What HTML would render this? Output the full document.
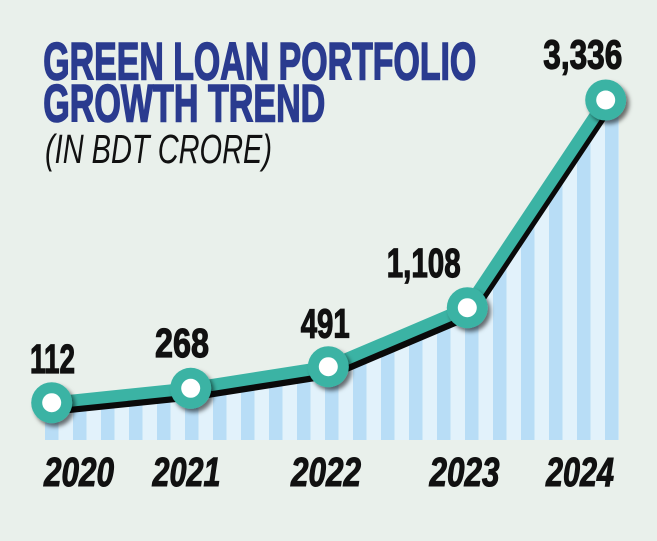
<!DOCTYPE html>
<html>
<head>
<meta charset="utf-8">
<style>
  html, body { margin:0; padding:0; }
  body { width:657px; height:541px; background:#e9f0eb; overflow:hidden; }
  svg { display:block; }
  .t { font-family:"Liberation Sans", sans-serif; }
</style>
</head>
<body>
<svg width="657" height="541" viewBox="0 0 657 541" xmlns="http://www.w3.org/2000/svg">
  <defs>
    <pattern id="stripes" patternUnits="userSpaceOnUse" x="45" y="0" width="28" height="541">
      <rect x="0" y="0" width="28" height="541" fill="#e2f2fb"/>
      <rect x="0" y="0" width="13.5" height="541" fill="#b8ddf6"/>
    </pattern>
    <filter id="sh" x="-50%" y="-50%" width="200%" height="200%">
      <feDropShadow dx="3" dy="3.5" stdDeviation="2" flood-color="#000" flood-opacity="0.55"/>
    </filter>
  </defs>

  <rect width="657" height="541" fill="#e9f0eb"/>

  <!-- Title -->
  <text class="t" x="43.3" y="79.3" font-size="53" font-weight="bold" fill="#2a3b8f" stroke="#2a3b8f" stroke-width="1.6" textLength="433" lengthAdjust="spacingAndGlyphs">GREEN LOAN PORTFOLIO</text>
  <text class="t" x="43.3" y="121.7" font-size="53" font-weight="bold" fill="#2a3b8f" stroke="#2a3b8f" stroke-width="1.6" textLength="282" lengthAdjust="spacingAndGlyphs">GROWTH TREND</text>
  <text class="t" x="45" y="163" font-size="40.5" font-style="italic" fill="#111" textLength="227" lengthAdjust="spacingAndGlyphs">(IN BDT CRORE)</text>

  <!-- Striped area -->
  <polygon points="45,440 45,405 51.7,405 190.7,391 328.3,369 467.3,310 605.7,100 619,100 619,440" fill="url(#stripes)"/>

  <!-- Line shadow (black) -->
  <polyline points="51.7,402.7 190.7,388.3 328.3,366.7 467.3,307.7 605.7,100" fill="none" stroke="#0a0a0a" stroke-width="12" stroke-linejoin="round" stroke-linecap="round" transform="translate(2,6)"/>
  <!-- Teal line -->
  <polyline points="51.7,402.7 190.7,388.3 328.3,366.7 467.3,307.7 605.7,100" fill="none" stroke="#3bb3a4" stroke-width="12" stroke-linejoin="round" stroke-linecap="round"/>

  <!-- Markers -->
  <g filter="url(#sh)">
    <circle cx="51.7" cy="402.7" r="20.5" fill="#3bb3a4"/>
    <circle cx="190.7" cy="388.3" r="20.5" fill="#3bb3a4"/>
    <circle cx="328.3" cy="366.7" r="20.5" fill="#3bb3a4"/>
    <circle cx="467.3" cy="307.7" r="20.5" fill="#3bb3a4"/>
    <circle cx="605.7" cy="100" r="20.5" fill="#3bb3a4"/>
  </g>
  <g fill="#ffffff">
    <circle cx="51.7" cy="402.7" r="9.5"/>
    <circle cx="190.7" cy="388.3" r="9.5"/>
    <circle cx="328.3" cy="366.7" r="9.5"/>
    <circle cx="467.3" cy="307.7" r="9.5"/>
    <circle cx="605.7" cy="100" r="9.5"/>
  </g>

  <!-- Value labels -->
  <g class="t" font-size="40.5" font-weight="bold" fill="#111" stroke="#111" stroke-width="1.2">
    <text x="30" y="373" textLength="45" lengthAdjust="spacingAndGlyphs">112</text>
    <text x="155" y="357" textLength="54" lengthAdjust="spacingAndGlyphs">268</text>
    <text x="300.7" y="337.5" textLength="49" lengthAdjust="spacingAndGlyphs">491</text>
    <text x="386.7" y="277" textLength="74" lengthAdjust="spacingAndGlyphs">1,108</text>
    <text x="543.3" y="68.5" textLength="79" lengthAdjust="spacingAndGlyphs">3,336</text>
  </g>

  <!-- Year labels -->
  <g class="t" font-size="40.5" font-weight="bold" font-style="italic" fill="#111" stroke="#111" stroke-width="1.1">
    <text x="44" y="486" textLength="70" lengthAdjust="spacingAndGlyphs">2020</text>
    <text x="152.5" y="486" textLength="68" lengthAdjust="spacingAndGlyphs">2021</text>
    <text x="291" y="486" textLength="70" lengthAdjust="spacingAndGlyphs">2022</text>
    <text x="429.5" y="486" textLength="70" lengthAdjust="spacingAndGlyphs">2023</text>
    <text x="546" y="486" textLength="68" lengthAdjust="spacingAndGlyphs">2024</text>
  </g>
</svg>
</body>
</html>
